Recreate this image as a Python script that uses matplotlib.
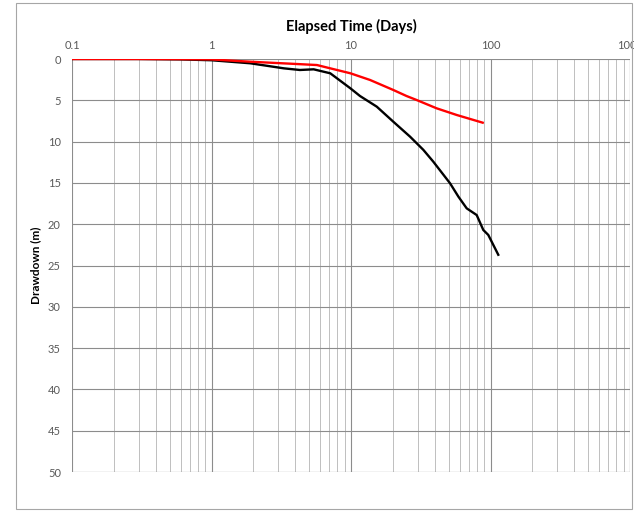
import matplotlib.pyplot as plt
from matplotlib.patches import Rectangle
from matplotlib.ticker import FixedLocator, LogLocator, NullFormatter

# observed drawdown (black) and model drawdown (red)
obs_days = [0.1, 0.3, 0.6, 1.0, 1.9, 3.3, 4.3, 5.4, 7.1, 9.9, 11.6, 15.3, 20.1, 26.5,
            33.0, 38.9, 51.3, 58.9, 67.5, 79.6, 88.8, 96.4, 113.7]
obs_dd = [0.0, 0.0, 0.05, 0.15, 0.52, 1.13, 1.33, 1.25, 1.73, 3.55, 4.48, 5.77, 7.59, 9.4,
          11.0, 12.43, 15.05, 16.67, 18.08, 18.89, 20.7, 21.3, 23.7]

model_days = [0.1, 0.3, 0.6, 1.0, 1.9, 3.5, 5.7, 7.1, 9.9, 13.7, 20.1, 25.0, 29.5, 41.1,
              57.3, 87.9]
model_dd = [0.0, 0.0, 0.02, 0.05, 0.33, 0.55, 0.73, 1.13, 1.73, 2.54, 3.75, 4.48, 4.96, 5.97,
            6.78, 7.71]

xticks = [0.1, 1, 10, 100, 1000]
xticklabels = ["0.1", "1", "10", "100", "1000"]
yticks = list(range(0, 55, 5))

plt.rcParams['font.family'] = ['Lato', 'DejaVu Sans']

fig = plt.figure(figsize=(6.34, 5.11), dpi=100)
fig.patches.append(Rectangle((16 / 634, 1 - 509 / 511), 616 / 634, 506 / 511,
                             transform=fig.transFigure, fill=False,
                             edgecolor='#a6a6a6', linewidth=0.8))
ax = fig.add_axes([72 / 634, 1 - 472 / 511, 558 / 634, 413 / 511])

ax.plot(obs_days, obs_dd, color='black', lw=1.7, zorder=3)
ax.plot(model_days, model_dd, color='#ff0000', lw=1.7, zorder=4)

ax.set_xscale('log')
ax.set_xlim(0.1, 1000)
ax.set_ylim(50, 0)

ax.xaxis.set_major_locator(FixedLocator(xticks))
ax.set_xticklabels(xticklabels)
ax.xaxis.set_minor_locator(LogLocator(base=10, subs=range(2, 10)))
ax.xaxis.set_minor_formatter(NullFormatter())
ax.set_yticks(yticks)

ax.xaxis.tick_top()
ax.xaxis.set_label_position('top')
ax.tick_params(axis='both', which='both', length=0, labelsize=8, colors='#595959')
ax.tick_params(axis='x', pad=6)
ax.tick_params(axis='y', pad=8)

ax.grid(True, which='major', axis='both', color='#8c8c8c', lw=0.8)
ax.grid(True, which='minor', axis='x', color='#bfbfbf', lw=0.7)
ax.set_axisbelow(True)
for s in ax.spines.values():
    s.set_visible(False)
ax.axhline(50, color='#8c8c8c', lw=0.8, zorder=1)
ax.axvline(1000, color='#8c8c8c', lw=0.8, zorder=1)

ax.set_xlabel("Elapsed Time (Days)", fontsize=10.5, fontweight='bold', labelpad=6)
ax.set_ylabel("Drawdown (m)", fontsize=8.5, fontweight='bold', labelpad=5)

fig.savefig("out.png", dpi=100)
